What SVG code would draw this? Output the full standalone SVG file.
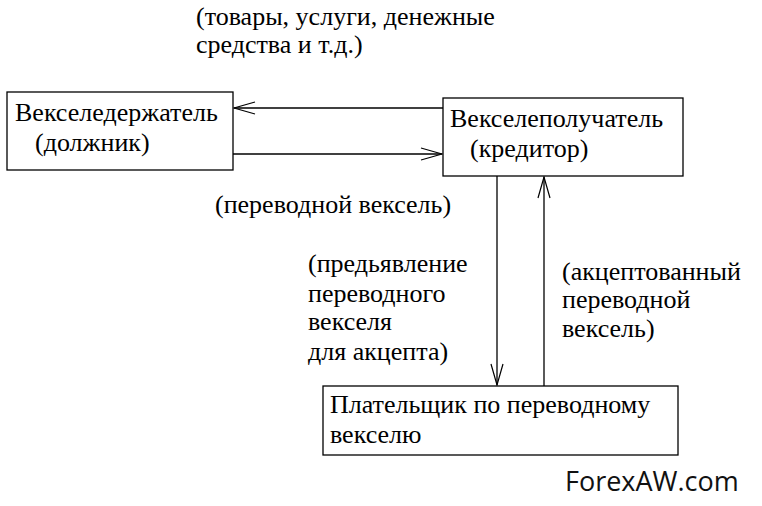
<svg xmlns="http://www.w3.org/2000/svg" width="762" height="506" viewBox="0 0 762 506" lang="ru">
<defs>
<marker id="ah" markerUnits="userSpaceOnUse" markerWidth="24" markerHeight="16" refX="22" refY="7" orient="auto" viewBox="0 0 24 16">
<path d="M1,1 L22,7 L1,13" fill="none" stroke="#000" stroke-width="1.2"/>
</marker>
</defs>
<rect width="762" height="506" fill="#fff"/>
<g id="connectors" stroke="#000" stroke-width="1.3" fill="none">
<line x1="443" y1="108" x2="234" y2="108" marker-end="url(#ah)"/>
<line x1="233" y1="154" x2="442" y2="154" marker-end="url(#ah)"/>
<line x1="497" y1="176" x2="497" y2="385" marker-end="url(#ah)"/>
<line x1="544" y1="386" x2="544" y2="177" marker-end="url(#ah)"/>
</g>
<g id="holder">
<rect x="7" y="92" width="226" height="78" fill="#fff" stroke="#000" stroke-width="1.3"/>
<text x="15" y="121" font-family="Liberation Serif, Tinos, Times New Roman, serif" font-size="26">Векселедержатель</text>
<text x="35" y="151" font-family="Liberation Serif, Tinos, Times New Roman, serif" font-size="26">(должник)</text>
</g>
<g id="receiver">
<rect x="443" y="98" width="240" height="78" fill="#fff" stroke="#000" stroke-width="1.3"/>
<text x="450" y="127" font-family="Liberation Serif, Tinos, Times New Roman, serif" font-size="26">Векселеполучатель</text>
<text x="470" y="157" font-family="Liberation Serif, Tinos, Times New Roman, serif" font-size="26">(кредитор)</text>
</g>
<g id="payer">
<rect x="323" y="386" width="355" height="69" fill="#fff" stroke="#000" stroke-width="1.3"/>
<text x="330" y="413" font-family="Liberation Serif, Tinos, Times New Roman, serif" font-size="26">Плательщик по переводному</text>
<text x="330" y="443" font-family="Liberation Serif, Tinos, Times New Roman, serif" font-size="26">векселю</text>
</g>
<g id="labels">
<text x="196" y="25" font-family="Liberation Serif, Tinos, Times New Roman, serif" font-size="26">(товары, услуги, денежные</text>
<text x="196" y="53" font-family="Liberation Serif, Tinos, Times New Roman, serif" font-size="26">средства и т.д.)</text>
<text x="215" y="213" font-family="Liberation Serif, Tinos, Times New Roman, serif" font-size="26">(переводной вексель)</text>
<text x="308" y="272" font-family="Liberation Serif, Tinos, Times New Roman, serif" font-size="26">(предьявление</text>
<text x="308" y="302" font-family="Liberation Serif, Tinos, Times New Roman, serif" font-size="26">переводного</text>
<text x="308" y="330" font-family="Liberation Serif, Tinos, Times New Roman, serif" font-size="26">векселя</text>
<text x="308" y="360" font-family="Liberation Serif, Tinos, Times New Roman, serif" font-size="26">для акцепта)</text>
<text x="562" y="280" font-family="Liberation Serif, Tinos, Times New Roman, serif" font-size="26">(акцептованный</text>
<text x="562" y="308" font-family="Liberation Serif, Tinos, Times New Roman, serif" font-size="26">переводной</text>
<text x="562" y="337" font-family="Liberation Serif, Tinos, Times New Roman, serif" font-size="26">вексель)</text>
</g>
<text x="565" y="491" font-family="Open Sans, sans-serif" font-size="27" fill="#111">ForexAW.com</text>
</svg>
